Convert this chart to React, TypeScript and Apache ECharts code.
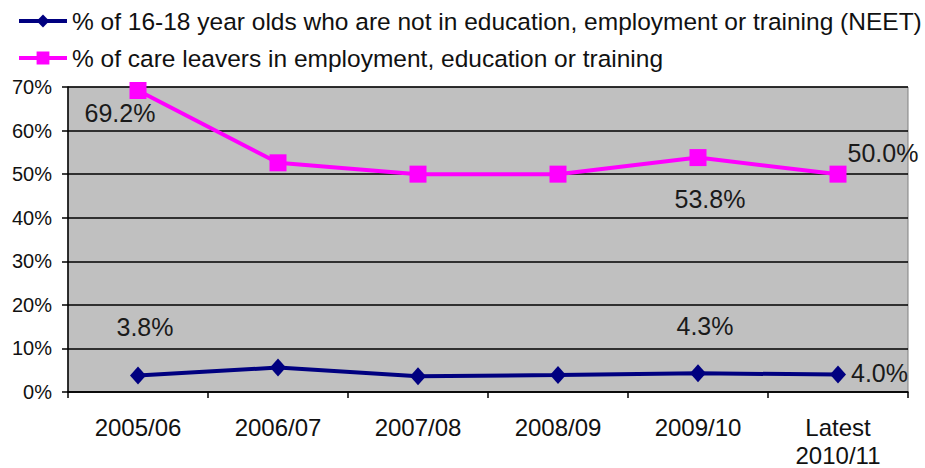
import React, { useEffect, useRef } from "react";
import * as echarts from "echarts";

const categories = ["2005/06", "2006/07", "2007/08", "2008/09", "2009/10", "Latest\n2010/11"];
const neetName = "% of 16-18 year olds who are not in education, employment or training (NEET)";
const careName = "% of care leavers in employment, education or training";
const neetValues = [3.8, 5.6, 3.6, 3.9, 4.3, 4.0];
const careValues = [69.2, 52.6, 50.0, 50.0, 53.8, 50.0];
const yTicks = { min: 0, max: 70, interval: 10 };

const FONT = "Liberation Sans, Arial, sans-serif";

export default function App() {
  const ref = useRef<HTMLDivElement>(null);
  useEffect(() => {
    if (!ref.current) return;
    const chart = echarts.init(ref.current, undefined, { renderer: "svg" });

    const labelBase = {
      show: true,
      fontFamily: FONT,
      fontSize: 25,
      color: "#1a1a1a",
      formatter: (p: any) => p.value.toFixed(1) + "%",
    };
    const neetLabels: Record<number, any> = {
      0: { position: "top", offset: [7, -22] },
      4: { position: "top", offset: [7, -21] },
      5: { position: "right", offset: [0, -2] },
    };
    const careLabels: Record<number, any> = {
      0: { position: "bottom", offset: [-18, -3] },
      4: { position: "bottom", offset: [12, 15] },
      5: { position: "right", offset: [-4, -21] },
    };
    const mk = (vals: number[], labels: Record<number, any>) =>
      vals.map((v, i) => ({
        value: v,
        label: labels[i] ? { ...labelBase, ...labels[i] } : { show: false },
      }));

    chart.setOption({
      animation: false,
      backgroundColor: "#ffffff",
      legend: {
        orient: "vertical",
        left: 12,
        top: 1,
        itemWidth: 48,
        itemHeight: 16,
        itemGap: 7,
        lineStyle: { width: 4 },
        textStyle: { fontFamily: FONT, fontSize: 24.5, color: "#111", lineHeight: 30 },
        data: [neetName, careName],
      },
      grid: {
        left: 68,
        right: 17,
        top: 87,
        bottom: 76,
        outerBoundsMode: "none",
        containLabel: false,
        show: true,
        backgroundColor: "#C0C0C0",
        borderColor: "#808080",
        borderWidth: 1,
      },
      xAxis: {
        type: "category",
        data: categories,
        boundaryGap: true,
        axisLine: { lineStyle: { color: "#000", width: 1.5 } },
        axisTick: { show: true, length: 6, lineStyle: { color: "#000", width: 1.5 } },
        axisLabel: { fontFamily: FONT, fontSize: 24, color: "#111", lineHeight: 28, margin: 21, interval: 0 },
        splitLine: { show: false },
      },
      yAxis: {
        type: "value",
        min: yTicks.min,
        max: yTicks.max,
        interval: yTicks.interval,
        axisLine: { show: true, lineStyle: { color: "#000", width: 1.5 } },
        axisTick: { show: true, length: 6, lineStyle: { color: "#000", width: 1.5 } },
        axisLabel: { fontFamily: FONT, fontSize: 20, color: "#111", margin: 16, formatter: "{value}%" },
        splitLine: { show: true, lineStyle: { color: "#000", width: 1.5 } },
      },
      series: [
        {
          name: neetName,
          type: "line",
          data: mk(neetValues, neetLabels),
          color: "#000080",
          lineStyle: { color: "#000080", width: 4 },
          itemStyle: { color: "#000080" },
          symbol: "diamond",
          symbolSize: [16, 18],
          z: 3,
        },
        {
          name: careName,
          type: "line",
          data: mk(careValues, careLabels),
          color: "#FF00FF",
          lineStyle: { color: "#FF00FF", width: 4 },
          itemStyle: { color: "#FF00FF" },
          symbol: "rect",
          symbolSize: 17,
          z: 3,
        },
      ],
    });
    return () => chart.dispose();
  }, []);
  return (
    <div
      ref={ref}
      style={{ position: "fixed", left: 0, top: 0, width: 925, height: 468 }}
    />
  );
}
